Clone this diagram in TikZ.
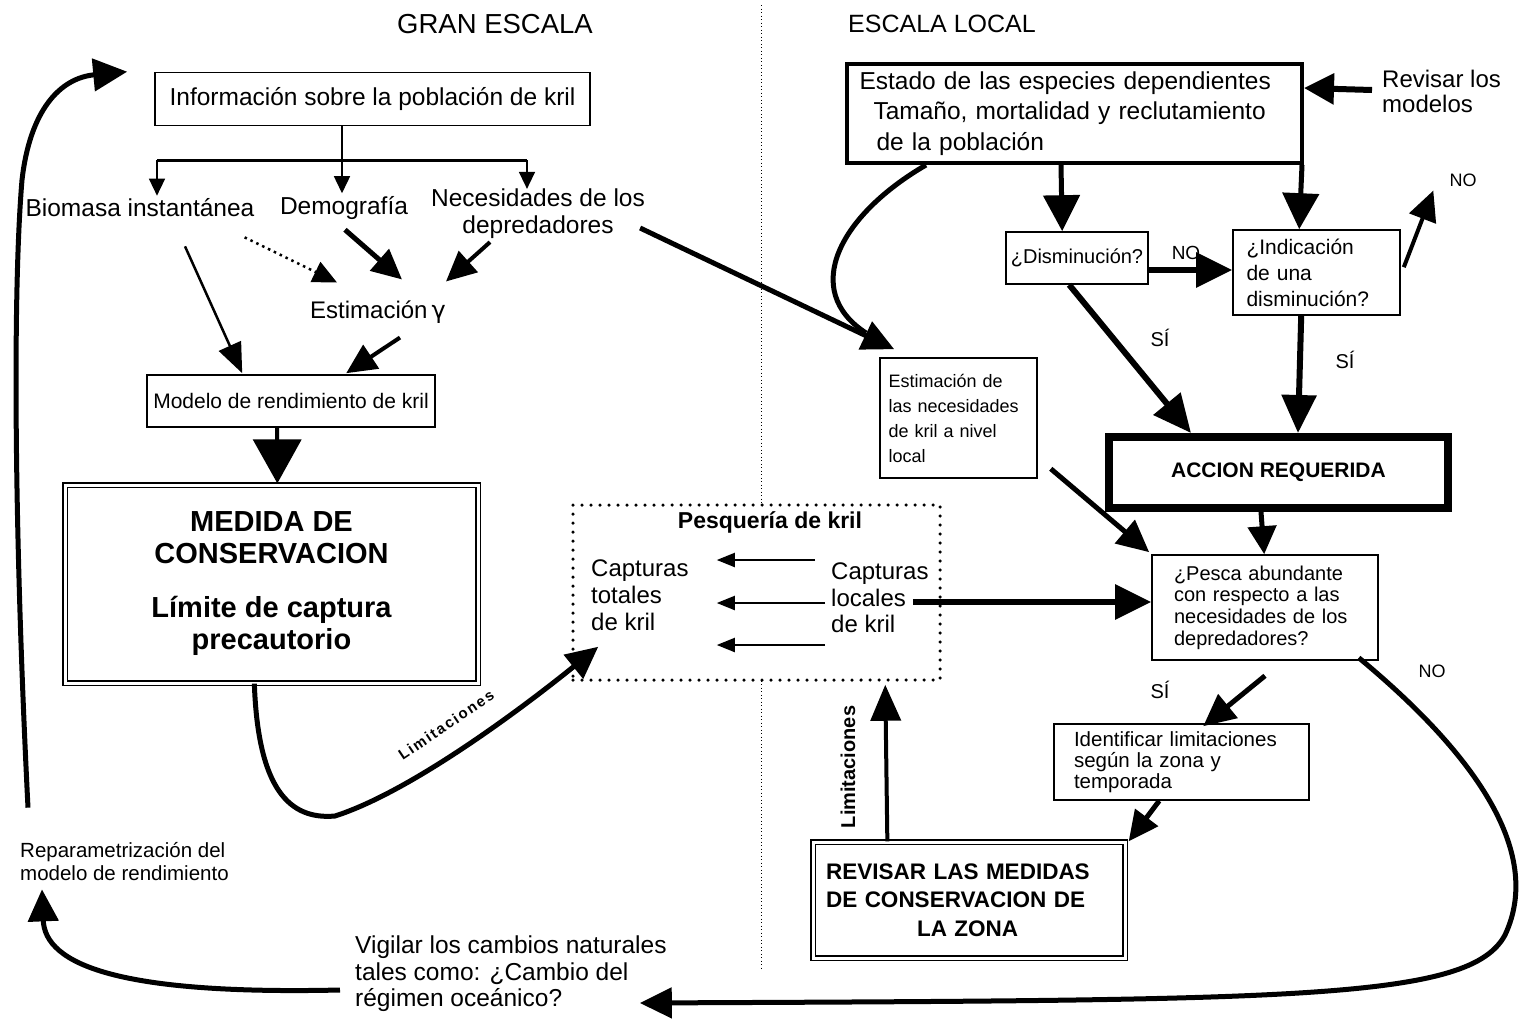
\documentclass[tikz,border=0pt]{standalone}
\usepackage{fontspec}
\setmainfont{Liberation Sans}
\newfontfamily\dejavu{DejaVu Sans}
\usetikzlibrary{arrows.meta,calc}
\newcommand\fsz[2]{\fontsize{#1}{#2}\selectfont}
\begin{document}
\begin{tikzpicture}[x=1pt,y=-1pt,
  box/.style={draw, line width=1.6pt, inner sep=0pt, align=center},
  dbox/.style={draw, double, line width=1.3pt, double distance=3pt, inner sep=0pt},
  ar/.style n args={3}{line width=#1, -{Triangle[length=#2,width=#3]}},
  lbl/.style={inner sep=0pt},
]
\useasboundingbox (0,0) rectangle (1529,1023);
\fill[white] (0,0) rectangle (1529,1023);

% divider
\draw[line width=1pt, dash pattern=on 1pt off 2.5pt] (761,5) -- (761,970);

% headers
\node[lbl, font=\fsz{27.5}{30}] (gran) at (495,24) {GRAN ESCALA};
\node[lbl, font=\fsz{25}{30}, anchor=west] (local) at (848,24) {ESCALA LOCAL};

% ---------- left side ----------
\node[box, minimum width=435pt, minimum height=53pt, font=\fsz{24.5}{28}] (info) at (372.5,99) {Información sobre la población de kril};
\coordinate (br1) at (157,160);
\coordinate (br2) at (342,160);
\coordinate (br3) at (527,160);
\node[lbl, font=\fsz{24.5}{28}] (bio) at (140,208) {Biomasa instantánea};
\node[lbl, font=\fsz{24.5}{28}] (demo) at (344,208) {Demografía};
\node[lbl, font=\fsz{24.5}{27}, align=center] (nec) at (538,214) {Necesidades de los\\depredadores};
\node[lbl, font=\fsz{24}{28}] (estg) at (378,312) {Estimación{\dejavu\,γ}};
\node[box, minimum width=288pt, minimum height=52pt, font=\fsz{21}{24}] (modelo) at (291,401) {Modelo de rendimiento de kril};
\node[dbox, minimum width=413pt, minimum height=198pt, align=center, font=\bfseries\fsz{29}{32}] (medida) at (271.5,584) {MEDIDA DE\\CONSERVACION\\[22pt]Límite de captura\\precautorio};

\draw[line width=2pt] (br2 |- info.south) -- (br2);
\draw[line width=3pt] (br1) -- (br3);
\draw[ar={1.5pt}{17pt}{16pt}] (br1) -- ($(br1 |- bio.north)+(0,-3)$);
\draw[ar={1.5pt}{17pt}{16pt}] (br2) -- ($(br2 |- demo.north)+(0,-3)$);
\draw[ar={1.5pt}{17pt}{16pt}] (br3) -- ($(br3 |- nec.north)+(0,0)$);

\draw[ar={2.5pt}{30pt}{24pt}] ($(bio.south)+(45,29)$) -- ($(modelo.north west)+(96,-1)$);
\draw[line width=2.5pt, dash pattern=on 2.5pt off 4pt, -{Triangle[length=24pt,width=22pt]}] ($(bio.south east)+(-10,20)$) -- ($(estg.north west)+(27,-18)$);
\draw[ar={5pt}{30pt}{28pt}] ($(demo.south)+(1,10)$) -- ($(estg.north)+(24,-21)$);
\draw[ar={4pt}{30pt}{28pt}] ($(nec.south)+(-48,3)$) -- ($(estg.north east)+(0,-19)$);
\draw[ar={4pt}{30pt}{28pt}] ($(estg.south)+(22,14)$) -- ($(modelo.north west)+(200,-1)$);
\draw[ar={4pt}{44pt}{48pt}] ($(modelo.south west)+(131,0)$) -- ($(medida.north west)+(213,-1)$);

% ---------- fishery ----------
\node[draw, fill=white, line width=3.5pt, line cap=round, dash pattern=on 0pt off 9pt, minimum width=367pt, minimum height=175pt] (pesq) at (756.5,592.5) {};
\node[lbl, font=\bfseries\fsz{23}{26}] (pesqt) at (770,522) {Pesquería de kril};
\node[lbl, anchor=west, align=left, font=\fsz{24}{27}] (capt) at (591,595) {Capturas\\totales\\de kril};
\node[lbl, anchor=west, align=left, font=\fsz{24}{26.5}] (capl) at (831,598) {Capturas\\locales\\de kril};
\draw[ar={2pt}{18pt}{14pt}] ($(capl.west)+(-16,-38)$) -- ($(capt.east)+(28,-35)$);
\draw[ar={2pt}{18pt}{14pt}] ($(capl.west)+(-6,5)$) -- ($(capt.east)+(28,8)$);
\draw[ar={2pt}{18pt}{14pt}] ($(capl.west)+(-6,47)$) -- ($(capt.east)+(28,50)$);

% curved arrow from MEDIDA to Pesqueria
\draw[ar={5pt}{32pt}{30pt}] ($(medida.south west)+(190,0)$) .. controls (258,790) and (290,820) .. (335,816) .. controls (410,792) and (520,710) .. ($(pesq.south west)+(27,-35)$);
\node[lbl, rotate=34, font=\bfseries\fsz{15}{16}\addfontfeature{LetterSpace=12}] (lim2) at (446,725) {Limitaciones};

% ---------- right side ----------
\node[box, line width=4pt, minimum width=455pt, minimum height=99pt, align=left, text width=430pt, font=\fsz{24.5}{30.5}] (estado) at (1074.5,113.5) {Estado de las especies dependientes\\\hspace*{14pt}Tamaño, mortalidad y reclutamiento\\\hspace*{17pt}de la población};
\node[lbl, anchor=west, align=left, font=\fsz{24}{25}] (revm) at (1382,91) {Revisar los\\modelos};
\node[box, minimum width=142pt, minimum height=52pt, font=\fsz{20}{24}] (dism) at (1077,258) {¿Disminución?};
\node[box, minimum width=167pt, minimum height=85pt, align=left, text width=140pt, font=\fsz{21}{26}] (indic) at (1316.5,272.5) {¿Indicación\\de una\\disminución?};
\node[draw, line width=8pt, minimum width=339pt, minimum height=71pt, inner sep=0pt, font=\bfseries\fsz{21}{24}] (accion) at (1278.5,472.5) {ACCION REQUERIDA};
\node[box, minimum width=157pt, minimum height=120pt, align=left, text width=140pt, font=\fsz{18}{25}] (estnec) at (958.5,418) {Estimación de\\las necesidades\\de kril a nivel\\local};
\node[box, minimum width=226pt, minimum height=105pt, align=left, text width=182pt, font=\fsz{20}{21.7}] (pesca) at (1265,607.5) {¿Pesca abundante\\con respecto a las\\necesidades de los\\depredadores?};
\node[box, minimum width=255pt, minimum height=76pt, align=left, text width=215pt, font=\fsz{20.5}{21}] (identif) at (1181.5,762) {Identificar limitaciones\\según la zona y\\temporada};
\node[dbox, minimum width=312pt, minimum height=116pt, align=left, text width=286pt, font=\bfseries\fsz{22.5}{28.5}] (revisar) at (969,900) {REVISAR LAS MEDIDAS\\DE CONSERVACION DE\\\hspace*{91pt}LA ZONA};

\node[lbl, font=\fsz{19}{22}] (no1) at (1186,253) {NO};
\node[lbl, font=\fsz{18}{22}] (no2) at (1463,180) {NO};
\node[lbl, font=\fsz{20}{22}] (si1) at (1160,338) {SÍ};
\node[lbl, font=\fsz{20}{22}] (si2) at (1345,360) {SÍ};
\node[lbl, font=\fsz{20}{22}] (si3) at (1160,690) {SÍ};
\node[lbl, font=\fsz{18}{22}] (no3) at (1432,671) {NO};
\node[lbl, rotate=90, font=\bfseries\fsz{20}{22}] (lim1) at (848,767) {Limitaciones};

\draw[ar={6pt}{30pt}{30pt}] ($(revm.west)+(-10,-1)$) -- ($(estado.north east)+(0,26)$);
\draw[ar={5pt}{36pt}{36pt}] ($(estado.south west)+(216,0)$) -- ($(dism.north west)+(57,0)$);
\draw[ar={5pt}{36pt}{36pt}] ($(estado.south east)+(-2,0)$) -- ($(indic.north west)+(67,0)$);
\draw[ar={6pt}{36pt}{34pt}] ($(dism.east)+(0,12)$) -- ($(indic.west)+(0,-2.5)$);
\draw[ar={4pt}{30pt}{28pt}] ($(indic.north east)+(3,38)$) -- ($(no2.south west)+(-16,4)$);
\draw[ar={6pt}{38pt}{34pt}] ($(dism.south west)+(64,0)$) -- ($(accion.north west)+(86,0)$);
\draw[ar={6pt}{38pt}{34pt}] ($(indic.south west)+(69,0)$) -- ($(accion.north west)+(193,0)$);
\draw[ar={5pt}{28pt}{28pt}] ($(accion.south west)+(156,0)$) -- ($(pesca.north west)+(113,0)$);
\draw[ar={5pt}{32pt}{30pt}] ($(estnec.south east)+(13,-10)$) -- ($(pesca.north west)+(-2,-2)$);
\draw[ar={6pt}{36pt}{34pt}] ($(capl.east)+(-16,4)$) -- ($(pesca.west)+(0,-5.5)$);
\draw[ar={5pt}{32pt}{30pt}] ($(pesca.south)+(0,15)$) -- ($(identif.north west)+(150,3)$);
\draw[ar={5pt}{30pt}{28pt}] ($(identif.south west)+(106,0)$) -- ($(revisar.north east)+(3,0)$);
\draw[ar={4pt}{36pt}{30pt}] ($(revisar.north west)+(75,0)$) -- ($(pesq.south west)+(314,3)$);

% predator needs -> local estimate, and curve from dependent species
\draw[ar={5pt}{32pt}{30pt}] ($(nec.east)+(-5,14)$) -- ($(estnec.north west)+(15,-8)$);
\draw[line width=5pt] ($(estado.south west)+(81,0)$) .. controls (840,215) and (800,290) .. (866,333);

% big return curves
\node[lbl, anchor=west, align=left, font=\fsz{24.5}{26.5}] (vig) at (355,974) {Vigilar los cambios naturales\\tales como: ¿Cambio del\\régimen oceánico?};
\node[lbl, anchor=west, align=left, font=\fsz{20.5}{23}] (repar) at (20,862) {Reparametrización del\\modelo de rendimiento};
\draw[ar={5pt}{32pt}{30pt}] ($(pesca.south east)+(-20,-3)$) .. controls (1470,750) and (1545,850) .. (1505,935) .. controls (1470,1000) and (1300,1000) .. ($(vig.east)+(-27,29)$);
\draw[ar={5pt}{32pt}{30pt}] ($(vig.west)+(-15,16)$) .. controls (120,995) and (45,965) .. ($(repar.south west)+(22,8)$);
\draw[ar={5pt}{34pt}{32pt}] ($(repar.north west)+(8,-35)$) .. controls (15,550) and (12,300) .. (22,180) .. controls (30,110) and (60,78) .. ($(info.north west)+(-27,0)$);
\end{tikzpicture}
\end{document}
